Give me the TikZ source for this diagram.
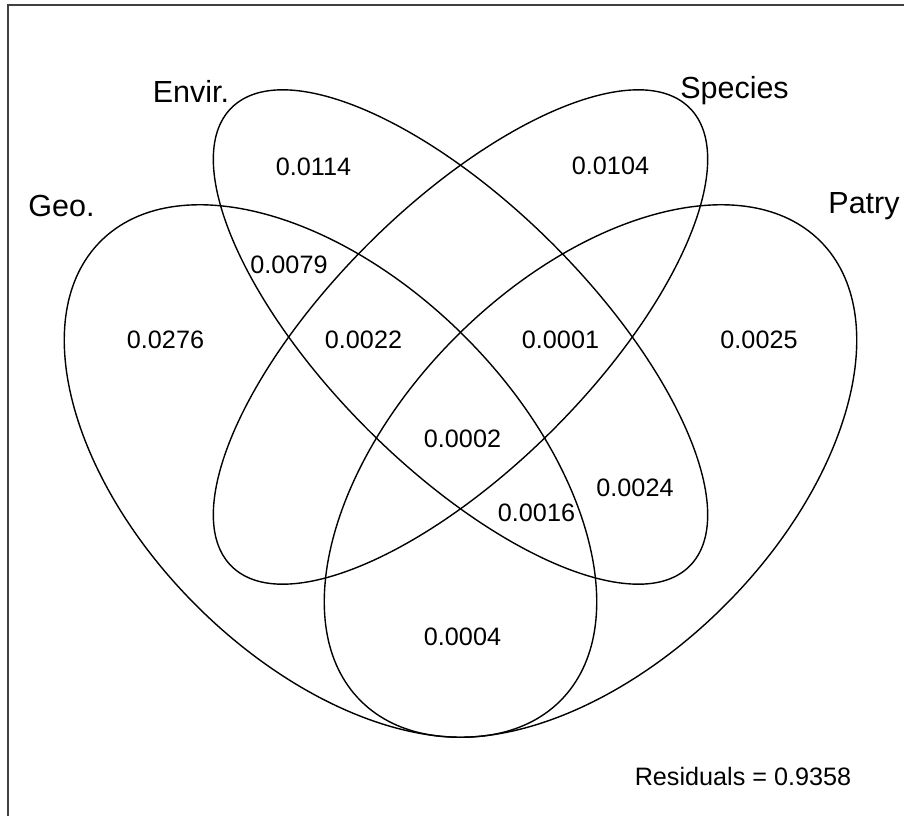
\documentclass[tikz,border=0pt]{standalone}
\usepackage{fontspec}
\setmainfont{Liberation Sans}
\begin{document}
\begin{tikzpicture}[x=1pt,y=1pt,
  setline/.style={line width=1.4pt, black},
  frameline/.style={line width=2pt, black!75},
  setlabel/.style={anchor=base, inner sep=0pt, font=\fontsize{30.5}{34}\selectfont},
  fraction/.style={anchor=base, inner sep=0pt, font=\fontsize{25.2}{29}\selectfont}]
\useasboundingbox (0,0) rectangle (904,-816);
% frame (only top and left edges fall inside the picture)
\draw[frameline] (8,-816) -- (8,-5) -- (904,-5);
% ellipses
\coordinate (cES) at (460.5,-337);
\coordinate (cG) at (330.5,-471);
\coordinate (cP) at (590.5,-471);
\draw[setline, rotate around={-45:(cES)}] (cES) ellipse [x radius=324, y radius=131];
\draw[setline, rotate around={45:(cES)}] (cES) ellipse [x radius=324, y radius=131];
\draw[setline, rotate around={-45:(cG)}] (cG) ellipse [x radius=325, y radius=190];
\draw[setline, rotate around={45:(cP)}] (cP) ellipse [x radius=325, y radius=190];
% set labels
\node[setlabel] (lEnv) at (191,-102) {Envir.};
\node[setlabel] (lGeo) at (61.5,-216) {Geo.};
\node[setlabel] (lSpe) at (734.5,-98) {Species};
\node[setlabel] (lPat) at (864,-213) {Patry};
% fractions
\node[fraction] (f1) at (313.5,-175) {0.0114};
\node[fraction] (f2) at (610.5,-174) {0.0104};
\node[fraction] (f3) at (289,-273) {0.0079};
\node[fraction] (f4) at (165.5,-348) {0.0276};
\node[fraction] (f5) at (363.5,-348) {0.0022};
\node[fraction] (f6) at (560.5,-348) {0.0001};
\node[fraction] (f7) at (759,-348) {0.0025};
\node[fraction] (f8) at (462.5,-447) {0.0002};
\node[fraction] (f9) at (635,-496) {0.0024};
\node[fraction] (f10) at (536.5,-521) {0.0016};
\node[fraction] (f11) at (462.5,-645) {0.0004};
\node[fraction] (res) at (743,-785) {Residuals = 0.9358};
\end{tikzpicture}
\end{document}
